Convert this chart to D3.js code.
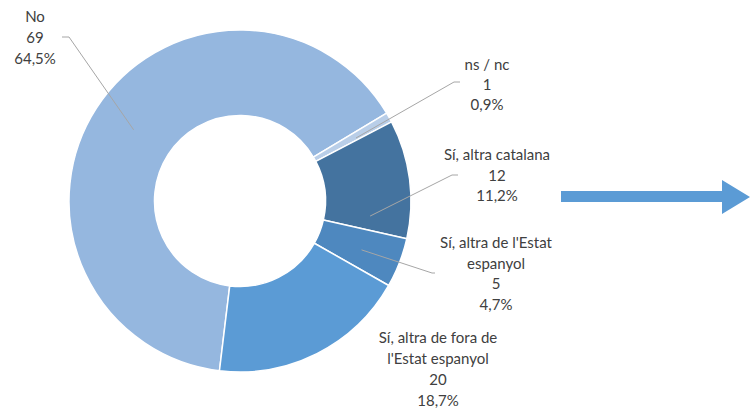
<!DOCTYPE html>
<html>
<head>
<meta charset="utf-8">
<script src="https://cdn.jsdelivr.net/npm/d3@7"></script>
<style>
  html, body { margin: 0; padding: 0; background: #fff; }
  svg { display: block; }
</style>
</head>
<body>
<svg id="chart" width="751" height="412"></svg>
<script>
// ---- Data ----
const categories = ["No", "ns / nc", "Sí, altra catalana", "Sí, altra de l'Estat espanyol", "Sí, altra de fora de l'Estat espanyol"];
const labelLines = [["No"], ["ns / nc"], ["Sí, altra catalana"], ["Sí, altra de l'Estat", "espanyol"], ["Sí, altra de fora de", "l'Estat espanyol"]];
const values = [69, 1, 12, 5, 20];
const percentLabels = ["64,5%", "0,9%", "11,2%", "4,7%", "18,7%"];

// ---- Styles / layout ----
const colors = ["#95B7DF", "#B9CEE8", "#44739F", "#4E88BF", "#5B9BD5"];
const cx = 240, cy = 201, R = 171, r = 85.5;
const startDeg = 186.9;
const rad = d => d * Math.PI / 180;

// label layout: center x, first line y, line height
const labelLayout = [
  { x: 35, y: 22, lh: 21 },
  { x: 487, y: 70, lh: 20 },
  { x: 497, y: 160, lh: 20.5 },
  { x: 496, y: 248, lh: 20.5 },
  { x: 438, y: 343, lh: 21 }
];
// leader lines: [label-side points..., slice point (angle deg, radius)]
const leaders = [
  { pts: [[62, 37], [69, 37]], ang: 303.8, rr: 128 },
  { pts: [[460, 82], [454, 82]], ang: 61.5, rr: 132 },
  { pts: [[458, 175], [452, 175]], ang: 96.6, rr: 131 },
  { pts: [[435, 273], [432, 273]], ang: 111.9, rr: 131 },
  null
];

const svg = d3.select("#chart");
const g = svg.append("g").attr("transform", `translate(${cx},${cy})`);

const pie = d3.pie().sort(null).value(d => d)
  .startAngle(rad(startDeg)).endAngle(rad(startDeg + 360));
const arcs = pie(values);
const arc = d3.arc().innerRadius(r).outerRadius(R);

g.selectAll("path.slice").data(arcs).enter().append("path")
  .attr("class", "slice")
  .attr("d", arc)
  .attr("fill", (d, i) => colors[i])
  .attr("stroke", "#fff")
  .attr("stroke-width", 1.5)
  .attr("stroke-linejoin", "round");

// leader lines
leaders.forEach((L, i) => {
  if (!L) return;
  const a = rad(L.ang);
  const end = [cx + L.rr * Math.sin(a), cy - L.rr * Math.cos(a)];
  const pts = L.pts.concat([end]);
  svg.append("path")
    .attr("d", d3.line()(pts))
    .attr("fill", "none")
    .attr("stroke", "#A6A6A6")
    .attr("stroke-width", 1);
});

// labels
labelLayout.forEach((L, i) => {
  const lines = labelLines[i].concat([String(values[i]), percentLabels[i]]);
  const t = svg.append("text")
    .attr("text-anchor", "middle")
    .attr("font-family", "Lato, 'Open Sans', sans-serif")
    .attr("font-size", 15)
    .attr("fill", "#404040");
  lines.forEach((s, k) => {
    t.append("tspan").attr("x", L.x).attr("y", L.y + k * L.lh).text(s);
  });
});

// arrow
const arrowPts = [[561, 191], [722, 191], [722, 180], [750, 197], [722, 214], [722, 202], [561, 202]];
svg.append("path")
  .attr("d", d3.line()(arrowPts) + "Z")
  .attr("fill", "#5B9BD5");
</script>
</body>
</html>
